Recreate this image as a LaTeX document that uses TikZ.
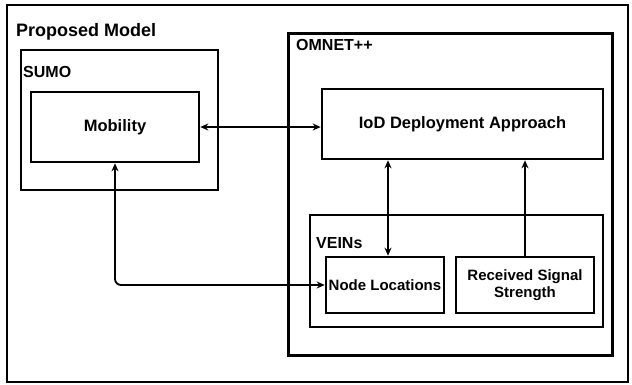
\documentclass[tikz,border=0pt]{standalone}
\usepackage{fontspec}
\setmainfont{Liberation Sans}
\usetikzlibrary{arrows.meta}
\begin{document}
\begin{tikzpicture}[x=1pt,y=-1pt,
  frame/.style={draw=black,line width=2.6pt},
  thickframe/.style={draw=black,line width=3pt},
  boxnode/.style={draw=black,line width=2.6pt,inner sep=0pt,align=center,font=\bfseries\fontsize{16.5}{19}\selectfont},
  smallbox/.style={draw=black,line width=2.6pt,inner sep=0pt,align=center,font=\bfseries\fontsize{15}{17}\selectfont},
  title/.style={anchor=base west,inner sep=0pt,font=\bfseries\fontsize{16}{19}\selectfont},
  conn/.style={line width=1.8pt,{Stealth[length=8pt,width=7pt]}-{Stealth[length=8pt,width=7pt]}},
  conn1/.style={line width=1.8pt,-{Stealth[length=8pt,width=7pt]}}]
\useasboundingbox (0,0) rectangle (632,384);
% outer frames
\draw[frame] (7,5) rectangle (628,382);
\node[title,font=\bfseries\fontsize{18}{21}\selectfont] (tpm) at (16,36) {Proposed Model};
\draw[frame] (21,50) rectangle (218,190);
\node[title] (tsumo) at (23,77) {SUMO};
\draw[thickframe] (288,33) rectangle (612,355);
\node[title] (tomn) at (296,50) {OMNET++};
\draw[frame] (310,215) rectangle (603,327);
\node[title] (tveins) at (316,248) {VEINs};
% boxes
\node[boxnode,minimum width=168pt,minimum height=70pt] (mob) at (115,127) {Mobility};
\node[boxnode,minimum width=281pt,minimum height=70pt] (iod) at (462.5,124) {IoD Deployment Approach};
\node[smallbox,minimum width=118pt,minimum height=56pt] (nl) at (385,285) {Node Locations};
\node[smallbox,minimum width=138pt,minimum height=56pt] (rss) at (525,285) {Received Signal\\Strength};
% connectors
\draw[conn] (mob.east) -- (iod.west |- mob.east);
\coordinate (nlt) at ([xshift=3pt]nl.north);
\draw[conn] (iod.south -| nlt) -- (nlt);
\draw[conn1] (rss.north) -- (iod.south -| rss.north);
\draw[conn,rounded corners=6pt] (mob.south) |- (nl.west);
\end{tikzpicture}
\end{document}
